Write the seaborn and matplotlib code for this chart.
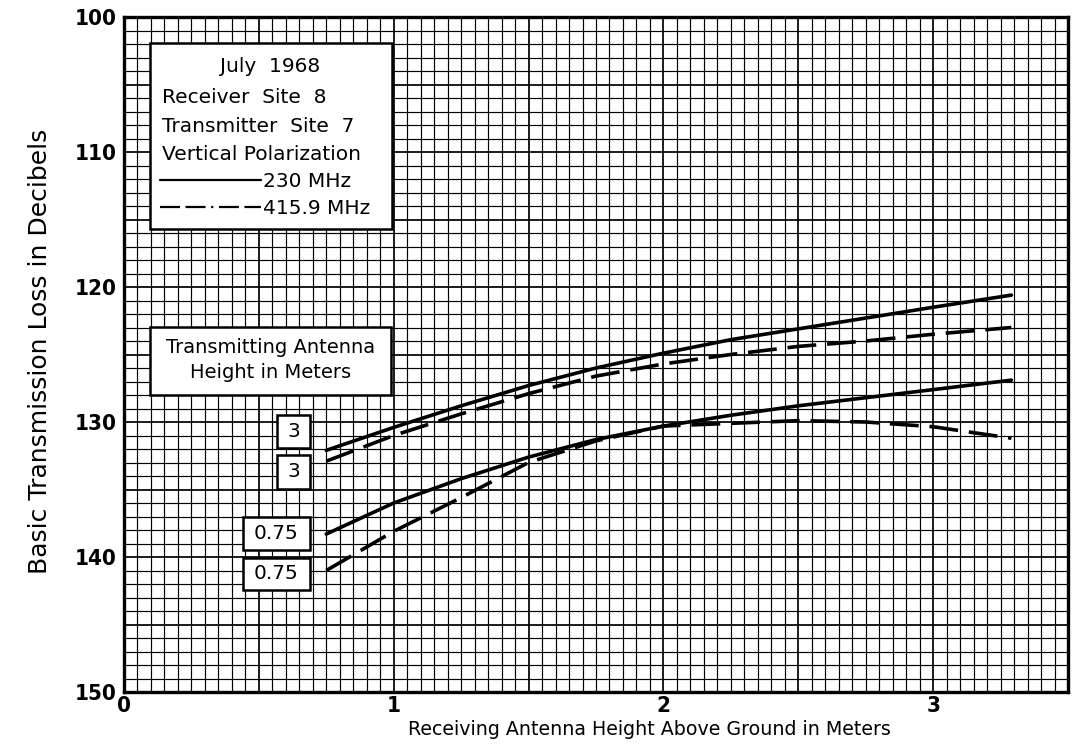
import numpy as np
import pandas as pd
import matplotlib
matplotlib.use('Agg')
import matplotlib.pyplot as plt
import seaborn as sns
from matplotlib.patches import Rectangle
from matplotlib.lines import Line2D
from matplotlib.ticker import MultipleLocator, FuncFormatter

# Receiving antenna height (m) where curves were read
rx_height = [0.75, 1.0, 1.25, 1.5, 1.75, 2.0, 2.25, 2.5, 2.75, 3.0, 3.29]

# Basic transmission loss (dB)
loss_3m_230 = [132.1, 130.4, 128.8, 127.3, 126.0, 124.9, 123.9, 123.1, 122.3, 121.5, 120.6]
loss_3m_416 = [132.9, 131.0, 129.4, 127.9, 126.6, 125.7, 125.0, 124.4, 124.0, 123.5, 123.0]
loss_075m_230 = [138.3, 136.0, 134.2, 132.6, 131.3, 130.3, 129.5, 128.8, 128.2, 127.6, 126.9]
loss_075m_416 = [141.0, 138.1, 135.6, 133.0, 131.4, 130.3, 130.1, 129.9, 130.0, 130.35, 131.2]

frequencies = ['230 MHz', '415.9 MHz']
tx_labels = ['3', '3', '0.75', '0.75']
info_lines = ['Receiver  Site  8', 'Transmitter  Site  7', 'Vertical Polarization']

# Build long table for seaborn
rows = []
for curve, (tx, freq, vals) in enumerate([('3', '230 MHz', loss_3m_230),
                                          ('3', '415.9 MHz', loss_3m_416),
                                          ('0.75', '230 MHz', loss_075m_230),
                                          ('0.75', '415.9 MHz', loss_075m_416)]):
    for h, v in zip(rx_height, vals):
        rows.append({'curve': curve, 'tx': tx, 'freq': freq, 'height': h, 'loss': v})
df = pd.DataFrame(rows)

sns.set_style('white')
plt.rcParams['font.family'] = ['DejaVu Sans']
plt.rcParams['text.color'] = 'black'
plt.rcParams['axes.labelcolor'] = 'black'
plt.rcParams['xtick.color'] = 'black'
plt.rcParams['ytick.color'] = 'black'

fig = plt.figure(figsize=(10.81, 7.49), dpi=100)
ax = fig.add_axes([0.1147, 0.0761, 0.8733, 0.9012])

curve_dash = (8, 3)
sns.lineplot(data=df, x='height', y='loss', units='curve', estimator=None,
             style='freq', dashes={'230 MHz': '', '415.9 MHz': curve_dash},
             color='black', lw=2.6, legend=False, ax=ax, zorder=5)

ax.set_xlim(0, 3.5)
ax.set_ylim(150, 100)

# graph-paper grid
ax.xaxis.set_major_locator(MultipleLocator(0.5))
ax.xaxis.set_minor_locator(MultipleLocator(0.05))
ax.yaxis.set_major_locator(MultipleLocator(5))
ax.yaxis.set_minor_locator(MultipleLocator(1))
ax.grid(which='minor', color='black', lw=0.85)
ax.grid(which='major', color='black', lw=1.25)
ax.set_axisbelow(True)

ax.xaxis.set_major_formatter(FuncFormatter(lambda v, p: f'{int(v)}' if abs(v - round(v)) < 1e-6 else ''))
ax.yaxis.set_major_formatter(FuncFormatter(lambda v, p: f'{int(v)}' if int(round(v)) % 10 == 0 else ''))
ax.tick_params(which='both', length=0)
ax.tick_params(axis='y', pad=5)
ax.tick_params(axis='x', pad=3)
for lab in ax.get_xticklabels() + ax.get_yticklabels():
    lab.set_family(['DejaVu Sans'])
    lab.set_stretch('condensed')
    lab.set_fontweight('bold')
    lab.set_fontsize(16)

for sp in ax.spines.values():
    sp.set_linewidth(2.4)
    sp.set_color('black')
    sp.set_visible(True)

ax.set_xlabel('Receiving Antenna Height Above Ground in Meters', fontsize=13.7, va='top')
ax.set_ylabel('Basic Transmission Loss in Decibels', fontsize=18)
ax.xaxis.set_label_coords(0.556, -0.041)
ax.yaxis.set_label_coords(-0.076, 0.505)

# info box
ax.add_patch(Rectangle((0.0275, 0.686), 0.2564, 0.2755, transform=ax.transAxes,
                       facecolor='white', edgecolor='black', lw=1.8, zorder=6))
ax.text(0.155, 0.927, 'July  1968', transform=ax.transAxes, ha='center', va='center',
        fontsize=14.5, zorder=7)
for i, line in enumerate(info_lines):
    ax.text(0.040, 0.881 - i * 0.0425, line, transform=ax.transAxes, ha='left', va='center',
            fontsize=14.5, zorder=7)

handles = [Line2D([], [], color='black', lw=1.6),
           Line2D([], [], color='black', lw=1.6, dashes=(9, 2.5, 9, 2.5, 1, 2.5))]
leg = ax.legend(handles, frequencies, loc='upper left', bbox_to_anchor=(0.038, 0.771),
                frameon=False, fontsize=14.5, handlelength=5.0, handletextpad=0.1,
                labelspacing=0.42, borderpad=0, borderaxespad=0)
leg.set_zorder(8)

# transmitting antenna box
ax.add_patch(Rectangle((0.0275, 0.440), 0.2553, 0.1007, transform=ax.transAxes,
                       facecolor='white', edgecolor='black', lw=1.8, zorder=6))
ax.text(0.155, 0.492, 'Transmitting Antenna\nHeight in Meters', transform=ax.transAxes,
        ha='center', va='center', fontsize=14, linespacing=1.35, zorder=7)

# curve label boxes (x0, x1, y0, y1) in data units
label_boxes = [(0.567, 0.689, 129.48, 131.93), (0.567, 0.689, 132.44, 134.96),
               (0.441, 0.689, 137.04, 139.48), (0.441, 0.689, 140.07, 142.44)]
for txt, (x0, x1, y0, y1) in zip(tx_labels, label_boxes):
    ax.add_patch(Rectangle((x0, y0), x1 - x0, y1 - y0, facecolor='white',
                           edgecolor='black', lw=1.8, zorder=6))
    ax.text((x0 + x1) / 2, (y0 + y1) / 2, txt, ha='center', va='center',
            fontsize=14.5, zorder=7)

fig.savefig('out.png', dpi=100)
